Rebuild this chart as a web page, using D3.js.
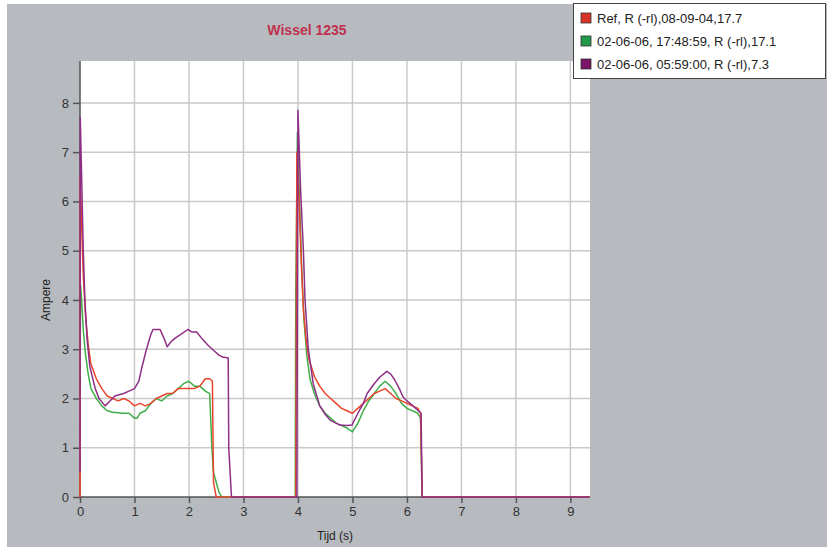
<!DOCTYPE html>
<html><head><meta charset="utf-8">
<script src="https://cdn.jsdelivr.net/npm/d3@7"></script>
<style>body{margin:0;background:#fff}svg{display:block}</style>
</head><body><svg id="c" width="827" height="547"></svg>
<script>
const title = "Wissel 1235";
const xLabel = "Tijd (s)";
const yLabel = "Ampere";
const xTicks = [0,1,2,3,4,5,6,7,8,9];
const yTicks = [0,1,2,3,4,5,6,7,8];
const seriesNames = ["Ref, R (-rl),08-09-04,17.7", "02-06-06, 17:48:59, R (-rl),17.1", "02-06-06, 05:59:00, R (-rl),7.3"];
const seriesColors = ["#e8452c", "#3fae48", "#8e2f86"];
const legendColors = ["#d8322a", "#22984a", "#7c1466"];

const refSeries = [[0,0],[0.005,6.5],[0.03,5.5],[0.06,4.5],[0.1,3.7],[0.15,3.1],[0.2,2.7],[0.3,2.4],[0.4,2.2],[0.5,2.05],[0.6,2.0],[0.7,1.95],[0.8,2.0],[0.9,1.95],[1.0,1.85],[1.1,1.9],[1.2,1.85],[1.3,1.9],[1.4,2.0],[1.5,2.05],[1.6,2.1],[1.7,2.1],[1.8,2.2],[1.9,2.2],[2.0,2.2],[2.1,2.2],[2.2,2.25],[2.3,2.4],[2.38,2.4],[2.43,2.35],[2.45,0.3],[2.5,0],[3.96,0],[3.98,7.0],[4.02,6.0],[4.06,4.8],[4.1,3.8],[4.15,3.2],[4.2,2.8],[4.3,2.45],[4.4,2.25],[4.5,2.1],[4.6,2.0],[4.7,1.9],[4.8,1.8],[4.9,1.75],[5.0,1.7],[5.1,1.8],[5.2,1.9],[5.3,2.0],[5.4,2.1],[5.5,2.15],[5.6,2.2],[5.7,2.1],[5.8,2.0],[5.9,1.95],[6.0,1.9],[6.1,1.85],[6.2,1.8],[6.25,1.7],[6.28,0],[9.35,0]];
const greenSeries = [[0,1.5],[0.01,4.3],[0.03,4.0],[0.06,3.4],[0.1,2.9],[0.15,2.5],[0.2,2.2],[0.3,2.0],[0.4,1.85],[0.5,1.75],[0.6,1.72],[0.8,1.7],[0.9,1.7],[1.0,1.6],[1.05,1.6],[1.1,1.7],[1.2,1.75],[1.3,1.9],[1.4,2.0],[1.5,1.95],[1.6,2.05],[1.7,2.1],[1.8,2.2],[1.9,2.3],[2.0,2.35],[2.1,2.25],[2.2,2.25],[2.3,2.15],[2.38,2.1],[2.42,1.0],[2.45,0.5],[2.55,0.1],[2.6,0],[3.95,0],[3.96,4.2],[3.99,7.4],[4.03,6.0],[4.07,4.6],[4.11,3.6],[4.16,2.9],[4.22,2.4],[4.3,2.1],[4.4,1.85],[4.5,1.7],[4.6,1.6],[4.7,1.5],[4.8,1.45],[4.9,1.4],[5.0,1.32],[5.1,1.5],[5.2,1.75],[5.3,1.95],[5.4,2.1],[5.5,2.25],[5.6,2.35],[5.7,2.25],[5.8,2.1],[5.9,1.9],[6.0,1.8],[6.1,1.75],[6.2,1.7],[6.25,1.6],[6.28,0],[9.35,0]];
const purpleSeries = [[0,0.5],[0.005,7.7],[0.03,6.5],[0.06,5.0],[0.09,4.0],[0.13,3.2],[0.18,2.65],[0.28,2.2],[0.35,2.0],[0.46,1.85],[0.55,1.95],[0.64,2.05],[0.8,2.1],[0.9,2.15],[1.0,2.2],[1.08,2.35],[1.14,2.65],[1.22,3.0],[1.3,3.3],[1.34,3.4],[1.47,3.4],[1.55,3.2],[1.6,3.05],[1.67,3.15],[1.74,3.22],[1.85,3.3],[1.98,3.4],[2.05,3.35],[2.14,3.35],[2.25,3.2],[2.35,3.08],[2.45,2.98],[2.55,2.88],[2.62,2.84],[2.72,2.82],[2.73,1.0],[2.78,0],[3.98,0],[4.0,7.85],[4.05,6.2],[4.1,5.0],[4.13,4.0],[4.19,3.0],[4.28,2.3],[4.4,1.85],[4.5,1.68],[4.59,1.56],[4.7,1.5],[4.77,1.46],[4.9,1.45],[4.99,1.46],[5.1,1.7],[5.2,1.9],[5.27,2.1],[5.4,2.3],[5.5,2.43],[5.63,2.55],[5.7,2.5],[5.78,2.37],[5.86,2.2],[5.93,2.03],[6.0,1.95],[6.09,1.87],[6.2,1.76],[6.26,1.7],[6.28,0],[9.35,0]];
const allSeries = [refSeries, greenSeries, purpleSeries];

const svg = d3.select("#c");
const font = "'Liberation Sans', Arial, sans-serif";
const W = 827, H = 547;
const pl = 80, pr = 590, pt = 61, pb = 497;
const x = d3.scaleLinear().domain([0, 9.36]).range([pl, pr]);
const y = d3.scaleLinear().domain([0, 8.85]).range([pb, pt]);

svg.append("rect").attr("x",7).attr("y",4).attr("width",W-7).attr("height",H-4).attr("fill","#b7bbbf");
svg.append("rect").attr("x",pl).attr("y",pt).attr("width",pr-pl).attr("height",pb-pt).attr("fill","#fff");

// grid
const g = svg.append("g");
g.selectAll(".vg").data(xTicks.filter(d=>d>0)).join("line")
  .attr("x1",d=>x(d)).attr("x2",d=>x(d)).attr("y1",pt).attr("y2",pb)
  .attr("stroke","#c9c9c9").attr("stroke-width",1.5);
g.selectAll(".hg").data(yTicks.filter(d=>d>0)).join("line")
  .attr("x1",pl).attr("x2",pr).attr("y1",d=>y(d)).attr("y2",d=>y(d))
  .attr("stroke","#c9c9c9").attr("stroke-width",1.5);

// axes
const xAxis = d3.axisBottom(x).tickValues(xTicks).tickSize(6).tickPadding(4).tickFormat(d3.format("d"));
const yAxis = d3.axisLeft(y).tickValues(yTicks).tickSize(7).tickPadding(4).tickFormat(d3.format("d"));
const xa = svg.append("g").attr("transform",`translate(0,${pb})`).call(xAxis);
const ya = svg.append("g").attr("transform",`translate(${pl},0)`).call(yAxis);
[xa, ya].forEach(a => {
  a.select(".domain").remove();
  a.selectAll(".tick line").attr("stroke","#555").attr("stroke-width",1.5);
  a.selectAll("text").attr("fill","#333").style("font-family",font).style("font-size","13px");
});
svg.append("line").attr("x1",pl).attr("x2",pl).attr("y1",pt).attr("y2",pb).attr("stroke","#555").attr("stroke-width",1.5);
svg.append("line").attr("x1",pl).attr("x2",pr).attr("y1",pb).attr("y2",pb).attr("stroke","#555").attr("stroke-width",1.5);

// lines
const line = d3.line().x(d=>x(d[0])).y(d=>y(d[1]));
const order = [1,0,2];
order.forEach(i => {
  svg.append("path").datum(allSeries[i]).attr("d",line)
    .attr("fill","none").attr("stroke",seriesColors[i]).attr("stroke-width",1.5)
    .attr("stroke-linejoin","round");
});

// title
svg.append("text").attr("x",307).attr("y",35).attr("text-anchor","middle")
  .style("font-family",font).style("font-size","14px").style("font-weight","bold")
  .attr("fill","#c0304e").text(title);

// axis labels
svg.append("text").attr("x",335).attr("y",540).attr("text-anchor","middle")
  .style("font-family",font).style("font-size","12px").attr("fill","#222").text(xLabel);
svg.append("text").attr("transform","translate(50,300) rotate(-90)").attr("text-anchor","middle")
  .style("font-family",font).style("font-size","12px").attr("fill","#222").text(yLabel);

// legend
const lg = svg.append("g");
lg.append("rect").attr("x",573.5).attr("y",3.5).attr("width",252).attr("height",75)
  .attr("fill","#fff").attr("stroke","#444").attr("stroke-width",1);
seriesNames.forEach((n,i) => {
  const cy = 18 + i*23;
  lg.append("rect").attr("x",581).attr("y",cy-5).attr("width",10).attr("height",10)
    .attr("fill",legendColors[i]).attr("stroke","#333").attr("stroke-width",0.8);
  lg.append("text").attr("x",597).attr("y",cy+5)
    .style("font-family",font).style("font-size","13px").attr("fill","#222").text(n);
});
</script></body></html>
